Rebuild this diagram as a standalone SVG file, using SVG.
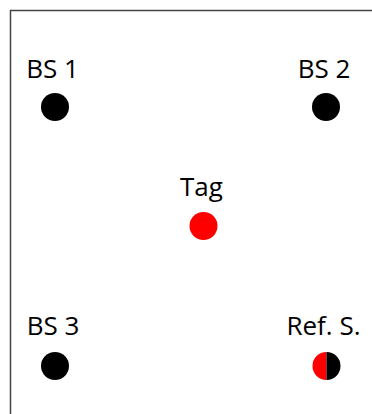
<svg xmlns="http://www.w3.org/2000/svg" width="372" height="414" viewBox="0 0 372 414">
<style>
.lbl{font-family:"Open Sans","Noto Sans",sans-serif;font-size:26px;fill:#000;text-anchor:middle}
.bs{fill:#000}
.tag{fill:#ff0000}
</style>
<rect x="0" y="0" width="372" height="414" fill="#fff"/>
<rect x="10.5" y="10.5" width="420" height="460" fill="none" stroke="#444" stroke-width="1.5"/>
<g id="bs1"><text class="lbl" x="52.5" y="78">BS 1</text><circle class="bs" cx="55" cy="107" r="14"/></g>
<g id="bs2"><text class="lbl" x="324" y="78">BS 2</text><circle class="bs" cx="326" cy="107" r="14"/></g>
<g id="tag"><text class="lbl" x="201.5" y="196">Tag</text><circle class="tag" cx="203.5" cy="226" r="14"/></g>
<g id="bs3"><text class="lbl" x="53" y="335">BS 3</text><circle class="bs" cx="55" cy="366" r="14"/></g>
<g id="ref"><text class="lbl" x="323.5" y="335">Ref. S.</text>
<path d="M326.5,352 A14,14 0 0 0 326.5,380 Z" fill="#ff0000"/>
<path d="M326.5,352 A14,14 0 0 1 326.5,380 Z" fill="#000"/></g>
<g id="connectors"></g>
</svg>
